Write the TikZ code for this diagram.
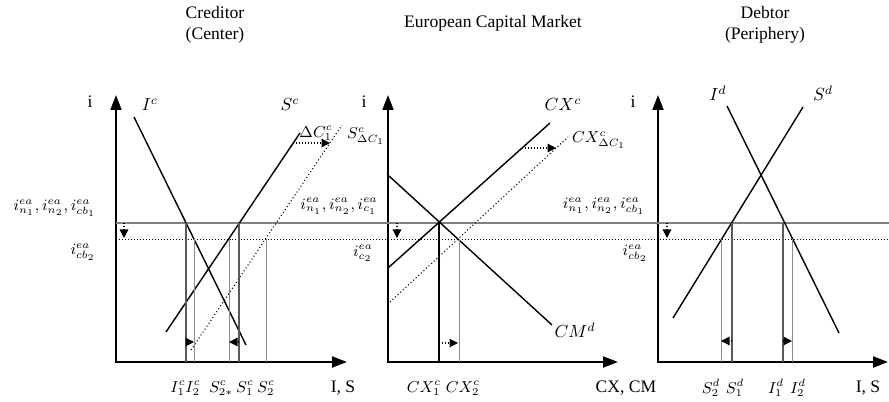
\documentclass[tikz,border=0pt]{standalone}
\usepackage{fontspec}
\setmainfont{Liberation Serif}
\usetikzlibrary{arrows.meta}

\begin{document}
\begin{tikzpicture}[x=0.02cm, y=0.02cm,
    every node/.style={font=\normalsize, inner sep=1pt},
    lbl/.style={font=\small, inner sep=0.5pt},
    axis/.style={{Triangle[length=3mm, width=2.2mm]}-{Triangle[length=3mm, width=2.2mm]}, line width=1.2pt},
    curve/.style={line width=0.8pt},
    shifted/.style={dash pattern=on 0.6pt off 1.4pt, line width=0.6pt},
    level/.style={draw=black!50, line width=1pt},
    lowlevel/.style={dash pattern=on 0.5pt off 1.2pt, line width=0.5pt},
    drop/.style={black!65, line width=0.7pt},
    drop2/.style={black!45, line width=0.5pt},
    move/.style={densely dotted, line width=0.7pt, -{Triangle[length=1.7mm, width=1.7mm]}},
]

\useasboundingbox (0,0) rectangle (889,402);

% titles
\node[align=center] (tCred) at (215,377) {Creditor\\(Center)};
\node (tMarket) at (493,379) {European Capital Market};
\node[align=center] (tDebt) at (765,377) {Debtor\\(Periphery)};

% axes
\coordinate (oC) at (116,40);
\coordinate (oM) at (388,40);
\coordinate (oD) at (658,40);
\draw[axis] (116,307) -- (oC) -- (347,40);
\draw[axis] (388,307) -- (oM) -- (618,40);
\draw[axis] (658,307) -- (oD) -- (888,40);

\node (iC) at (90,300) {i};
\node (iM) at (364,300) {i};
\node (iD) at (633,300) {i};
\node (xC) at (343,14) {I, S};
\node (xM) at (626,14) {CX, CM};
\node (xD) at (868,14) {I, S};

% interest rate levels
\coordinate (lvl1) at (116,179);
\coordinate (lvl2) at (116,163);
\draw[level] (lvl1) -- (889,179);
\draw[lowlevel] (lvl2) -- (889,163);
\draw[move] (124,179) -- (124,164);
\draw[move] (397,179) -- (397,164);
\draw[move] (667,179) -- (667,164);

\node[lbl, anchor=east] (rC1) at (97,194) {$i^{ea}_{n_1}, i^{ea}_{n_2}, i^{ea}_{cb_1}$};
\node[lbl] (rC2) at (83,150) {$i^{ea}_{cb_2}$};
\node[lbl] (rM1) at (339,196) {$i^{ea}_{n_1}, i^{ea}_{n_2}, i^{ea}_{c_1}$};
\node[lbl] (rM2) at (363,149) {$i^{ea}_{c_2}$};
\node[lbl] (rD1) at (604,196) {$i^{ea}_{n_1}, i^{ea}_{n_2}, i^{ea}_{cb_1}$};
\node[lbl] (rD2) at (635,149) {$i^{ea}_{cb_2}$};

% ---- creditor ----
\coordinate (Ic0) at (134,285);
\coordinate (Ic1) at (246,57);
\coordinate (Sc0) at (166,70);
\coordinate (Sc1) at (300,269);
\coordinate (Sdc0) at (191,52);
\coordinate (Sdc1) at (342,277);
\draw[curve] (Ic0) -- (Ic1);
\draw[curve] (Sc0) -- (Sc1);
\draw[shifted] (Sdc0) -- (Sdc1);
\draw[move] (293,259) -- (330,259);

\node (lIc) at (150,297) {$I^c$};
\node (lSc) at (290,297) {$S^c$};
\node[lbl] (lDC) at (316,269) {$\Delta C^c_1$};
\node[lbl] (lSdc) at (366,266) {$S^c_{\Delta C_1}$};

\coordinate (I1c) at (186,179);
\coordinate (I2c) at (194,163);
\coordinate (S2sc) at (229,163);
\coordinate (S1c) at (239,179);
\coordinate (S2c) at (266,163);
\draw[drop] (I1c) -- (I1c |- oC);
\draw[drop2] (I2c) -- (I2c |- oC);
\draw[drop2] (S2sc) -- (S2sc |- oC);
\draw[drop] (S1c) -- (S1c |- oC);
\draw[drop2] (S2c) -- (S2c |- oC);
\draw[move] (186,60) -- (194,60);
\draw[move] (239,60) -- (229,60);

\node[lbl] (bI1c) at (178,14) {$I^c_1$};
\node[lbl] (bI2c) at (193,14) {$I^c_2$};
\node[lbl] (bS2sc) at (221,14) {$S^c_{2*}$};
\node[lbl] (bS1c) at (245,14) {$S^c_1$};
\node[lbl] (bS2c) at (266,14) {$S^c_2$};

% ---- capital market ----
\coordinate (CX0) at (388,134);
\coordinate (CX1) at (550,279);
\coordinate (CXd0) at (390,100);
\coordinate (CXd1) at (568,265);
\coordinate (CM0) at (389,226);
\coordinate (CM1) at (552,77);
\draw[curve] (CX0) -- (CX1);
\draw[shifted] (CXd0) -- (CXd1);
\draw[curve] (CM0) -- (CM1);
\draw[move] (522,254) -- (556,254);

\node (lCX) at (563,297) {$CX^c$};
\node[lbl] (lCXd) at (599,262) {$CX^c_{\Delta C_1}$};
\node (lCM) at (575,72) {$CM^d$};

\coordinate (CX1c) at (439,179);
\coordinate (CX2c) at (459,163);
\draw[black, line width=0.7pt] (CX1c) -- (CX1c |- oM);
\draw[drop2] (CX2c) -- (CX2c |- oM);
\draw[move] (439,59) -- (458,59);

\node[lbl] (bCX1) at (424,14) {$CX^c_1$};
\node[lbl] (bCX2) at (463,14) {$CX^c_2$};

% ---- debtor ----
\coordinate (Id0) at (727,296);
\coordinate (Id1) at (839,69);
\coordinate (Sd0) at (673,84);
\coordinate (Sd1) at (803,295);
\draw[curve] (Id0) -- (Id1);
\draw[curve] (Sd0) -- (Sd1);

\node (lId) at (718,309) {$I^d$};
\node (lSd) at (823,309) {$S^d$};

\coordinate (S2d) at (721,163);
\coordinate (S1d) at (732,179);
\coordinate (I1d) at (783,179);
\coordinate (I2d) at (792,163);
\draw[drop2] (S2d) -- (S2d |- oD);
\draw[drop] (S1d) -- (S1d |- oD);
\draw[drop] (I1d) -- (I1d |- oD);
\draw[drop2] (I2d) -- (I2d |- oD);
\draw[move] (732,61) -- (721,61);
\draw[move] (783,61) -- (792,61);

\node[lbl] (bS2d) at (711,14) {$S^d_2$};
\node[lbl] (bS1d) at (735,14) {$S^d_1$};
\node[lbl] (bI1d) at (776,14) {$I^d_1$};
\node[lbl] (bI2d) at (798,14) {$I^d_2$};

\end{tikzpicture}
\end{document}
